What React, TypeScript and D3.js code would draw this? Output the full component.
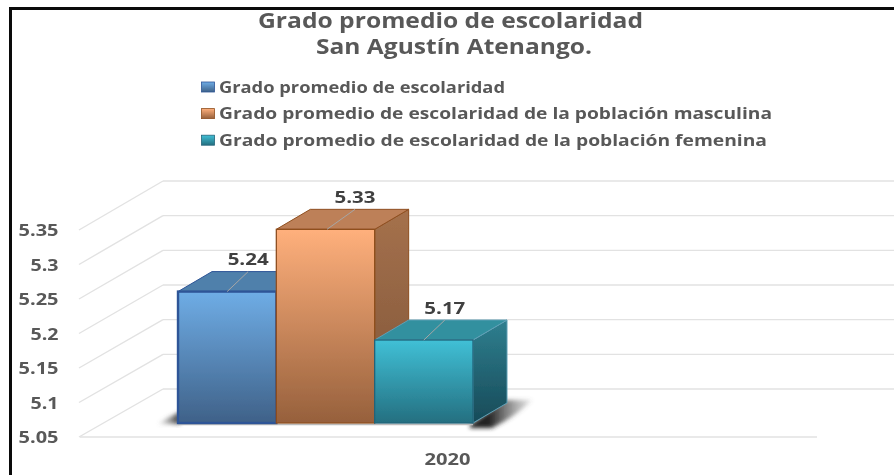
import React from "react";
import * as d3 from "d3";

const titleLines = ["Grado promedio de escolaridad", "San Agustín Atenango."];
const category = "2020";
const seriesNames = [
  "Grado promedio de escolaridad",
  "Grado promedio de escolaridad de la población masculina",
  "Grado promedio de escolaridad de la población femenina",
];
const seriesValues = [5.24, 5.33, 5.17];
const tickValues = [5.05, 5.1, 5.15, 5.2, 5.25, 5.3, 5.35];
const tickLabels = ["5.05", "5.1", "5.15", "5.2", "5.25", "5.3", "5.35"];

const faceTop = ["#6fadE6", "#ffb07c", "#40c0d6"];
const faceBottom = ["#3f6188", "#96603c", "#246f80"];
const topFace = ["#5080ab", "#bd8058", "#30909f"];
const sideTop = ["#4a7299", "#a5714c", "#2f7f8f"];
const sideBottom = ["#33506e", "#7d5438", "#174a58"];
const strokes = ["#2f5597", "#8f4f1f", "#23647a"];
const sideStrokes = ["#2f5597", "#8f4f1f", "#5f9fb5"];
const leaderDx = [21, 28, 21];

const font = "'Open Sans', sans-serif";
const grey = "#595959";

export default function App() {
  const frontY = d3.scaleLinear().domain([5.05, 5.35]).range([437, 230]);
  const backY = d3.scaleLinear().domain([5.05, 5.35]).range([389, 181]);
  const barY = d3.scaleLinear().domain([5.05, 5.35]).range([423, 215.5]);
  const barX = d3.scaleBand().domain(seriesNames).range([178, 473]);
  const depthX = 34;
  const depthY = 20;
  const baseY = barY(5.05);

  return (
    <svg
      width={894}
      height={475}
      style={{ position: "absolute", left: 0, top: 0, background: "#fff" }}
    >
      <defs>
        {seriesNames.map((_, i) => (
          <React.Fragment key={i}>
            <linearGradient id={`f${i}`} x1="0" y1="0" x2="0" y2="1">
              <stop offset="0" stopColor={faceTop[i]} />
              <stop offset="1" stopColor={faceBottom[i]} />
            </linearGradient>
            <linearGradient id={`s${i}`} x1="0" y1="0" x2="0" y2="1">
              <stop offset="0" stopColor={sideTop[i]} />
              <stop offset="1" stopColor={sideBottom[i]} />
            </linearGradient>
          </React.Fragment>
        ))}
        <linearGradient id="shL" x1="1" y1="0" x2="0" y2="0">
          <stop offset="0" stopColor="#333" />
          <stop offset="1" stopColor="#777" stopOpacity="0.1" />
        </linearGradient>
        <linearGradient id="shR" x1="0" y1="0" x2="1" y2="0">
          <stop offset="0.3" stopColor="#222" />
          <stop offset="1" stopColor="#666" stopOpacity="0.15" />
        </linearGradient>
        <filter id="blur" x="-30%" y="-30%" width="160%" height="160%">
          <feGaussianBlur stdDeviation="2" />
        </filter>
        <filter id="soft" x="-5%" y="-5%" width="110%" height="110%">
          <feGaussianBlur stdDeviation="0.3" />
        </filter>
      </defs>

      <g filter="url(#soft)">
        {/* gridlines */}
        {tickValues.map((v) => (
          <g key={v} stroke="#e2e2e2" strokeWidth={1.4} fill="none">
            <line x1={79} y1={frontY(v)} x2={163} y2={backY(v)} />
            <line x1={163} y1={backY(v)} x2={894} y2={backY(v)} />
          </g>
        ))}
        <line x1={80} x2={817} y1={437} y2={437} stroke="#e2e2e2" strokeWidth={1.6} />

        {/* floor shadow */}
        <path
          d={`M180,${baseY + 1} L158,${baseY + 1} Q168,${baseY - 6} 180,${baseY - 11} Z`}
          fill="url(#shL)"
          filter="url(#blur)"
        />
        <path
          d={`M470,${baseY + 2} L505,${baseY - 23} L532,${baseY - 23} Q515,${baseY - 6} 492,${baseY + 5} L470,${baseY + 5} Z`}
          fill="url(#shR)"
          filter="url(#blur)"
        />
        <line x1={178} x2={473} y1={baseY + 1.5} y2={baseY + 1.5} stroke="#bbb" strokeWidth={1.5} />

        {/* bars */}
        {seriesNames.map((s, i) => {
          const x0 = barX(s) as number;
          const x1 = x0 + barX.bandwidth();
          const t = barY(seriesValues[i]);
          return (
            <g key={s} strokeLinejoin="round">
              <path
                d={`M${x1},${t} L${x1 + depthX},${t - depthY} L${x1 + depthX},${baseY - depthY} L${x1},${baseY} Z`}
                fill={`url(#s${i})`}
                stroke={sideStrokes[i]}
                strokeWidth={i === 0 ? 0 : 1}
              />
              <path
                d={`M${x0},${t} L${x0 + depthX},${t - depthY} L${x1 + depthX},${t - depthY} L${x1},${t} Z`}
                fill={topFace[i]}
                stroke={i === 2 ? sideStrokes[i] : strokes[i]}
                strokeWidth={1}
              />
            </g>
          );
        })}
        {seriesNames.map((s, i) => {
          const x0 = barX(s) as number;
          const t = barY(seriesValues[i]);
          return (
            <rect
              key={s}
              x={x0}
              y={t}
              width={barX.bandwidth()}
              height={baseY - t}
              fill={`url(#f${i})`}
              stroke={strokes[i]}
              strokeWidth={i === 0 ? 2.4 : 1.3}
            />
          );
        })}

        {/* data labels */}
        {seriesNames.map((s, i) => {
          const x0 = barX(s) as number;
          const cx = x0 + barX.bandwidth() / 2 + (i === 1 ? 1.5 : 0);
          const t = barY(seriesValues[i]);
          return (
            <g key={s}>
              <line
                x1={cx}
                y1={t}
                x2={cx + leaderDx[i]}
                y2={t - 20}
                stroke="#a6a6a6"
                strokeWidth={1}
              />
              <text
                x={cx + leaderDx[i]}
                y={t - 26.4}
                textAnchor="middle"
                fontFamily={font}
                fontWeight={700}
                fontSize={16}
                fill="#404040"
                textLength={41}
                lengthAdjust="spacingAndGlyphs"
              >
                {seriesValues[i].toFixed(2)}
              </text>
            </g>
          );
        })}

        {/* y axis labels */}
        {tickValues.map((v, i) => (
          <text
            key={v}
            x={58.5}
            y={frontY(v) + 6}
            textAnchor="end"
            fontFamily={font}
            fontWeight={700}
            fontSize={16}
            fill={grey}
            textLength={tickLabels[i].length === 4 ? 40 : 28}
            lengthAdjust="spacingAndGlyphs"
          >
            {tickLabels[i]}
          </text>
        ))}

        {/* category label */}
        <text
          x={447.5}
          y={464.5}
          textAnchor="middle"
          fontFamily={font}
          fontWeight={700}
          fontSize={16}
          fill={grey}
          textLength={46}
          lengthAdjust="spacingAndGlyphs"
        >
          {category}
        </text>

        {/* title */}
        {titleLines.map((l, i) => (
          <text
            key={l}
            x={i === 0 ? 450.5 : 454}
            y={27.5 + i * 26.3}
            textAnchor="middle"
            fontFamily={font}
            fontWeight={700}
            fontSize={21}
            fill={grey}
            textLength={i === 0 ? 385 : 276}
            lengthAdjust="spacingAndGlyphs"
          >
            {l}
          </text>
        ))}

        {/* legend */}
        {seriesNames.map((s, i) => {
          const y = 87 + i * 26.6;
          return (
            <g key={s}>
              <rect
                x={201.5}
                y={y - 5}
                width={13}
                height={10}
                fill={`url(#f${i})`}
                stroke={strokes[i]}
                strokeWidth={0.8}
              />
              <text
                x={219}
                y={y + 5.6}
                fontFamily={font}
                fontWeight={700}
                fontSize={16}
                fill={grey}
                textLength={[286, 553, 548][i]}
                lengthAdjust="spacingAndGlyphs"
              >
                {s}
              </text>
            </g>
          );
        })}
      </g>

      {/* frame */}
      <line x1={9} x2={894} y1={8.5} y2={8.5} stroke="#0a0a0a" strokeWidth={3} />
      <line x1={10.5} x2={10.5} y1={7} y2={475} stroke="#0a0a0a" strokeWidth={3} />
    </svg>
  );
}
